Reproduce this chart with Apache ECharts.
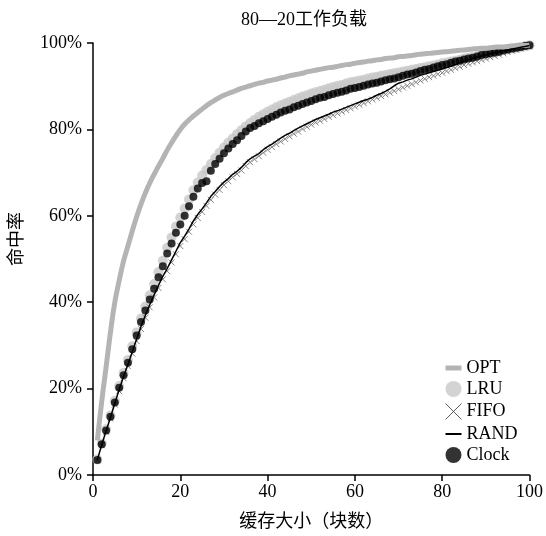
<!DOCTYPE html>
<html>
<head>
<meta charset="utf-8">
<script src="https://cdn.jsdelivr.net/npm/echarts@6/dist/echarts.min.js"></script>
<style>
  html, body { margin: 0; padding: 0; background: #fff; }
  #eChart { width: 546px; height: 536px; }
</style>
</head>
<body>
<div id="eChart"></div>
<script>
// hit rate (%) for cache sizes 1..100
var optHits = [
  8, 17, 25, 33, 40, 45, 49.5, 53, 56.5, 59.8,
  62.7, 65.3, 67.6, 69.6, 71.5, 73.3, 75.2, 76.9, 78.5, 80.0,
  81.2, 82.2, 83.1, 83.9, 84.7, 85.5, 86.2, 86.8, 87.4, 87.9,
  88.3, 88.7, 89.1, 89.5, 89.8, 90.1, 90.4, 90.7, 90.9, 91.2,
  91.4, 91.6, 91.9, 92.1, 92.4, 92.6, 92.8, 93.0, 93.3, 93.5,
  93.7, 93.9, 94.1, 94.3, 94.4, 94.6, 94.8, 95.0, 95.1, 95.3,
  95.5, 95.6, 95.8, 95.9, 96.1, 96.2, 96.4, 96.5, 96.6, 96.8,
  96.9, 97.0, 97.1, 97.3, 97.4, 97.5, 97.6, 97.7, 97.8, 97.9,
  98.0, 98.1, 98.2, 98.3, 98.4, 98.5, 98.6, 98.7, 98.8, 98.8,
  98.9, 99.0, 99.1, 99.1, 99.2, 99.3, 99.3, 99.4, 99.4, 99.5
];
var lruHits = [
  3.6, 7.3, 10.6, 13.8, 17.2, 20.6, 23.6, 26.6, 29.8, 33.0,
  36.2, 39.0, 41.6, 44.2, 47.0, 49.6, 52.6, 55.0, 57.5, 59.6,
  61.7, 63.8, 65.9, 67.7, 69.3, 70.6, 72.0, 73.4, 74.6, 75.8,
  76.9, 77.9, 78.9, 79.8, 80.7, 81.5, 82.2, 82.9, 83.5, 84.1,
  84.6, 85.1, 85.6, 86.0, 86.4, 86.8, 87.2, 87.6, 87.9, 88.3,
  88.6, 88.9, 89.2, 89.5, 89.8, 90.1, 90.3, 90.6, 90.9, 91.1,
  91.3, 91.5, 91.8, 92.0, 92.2, 92.4, 92.6, 92.8, 93.0, 93.2,
  93.4, 93.6, 93.8, 94.0, 94.2, 94.4, 94.6, 94.8, 95.0, 95.3,
  95.5, 95.7, 95.9, 96.1, 96.4, 96.6, 96.8, 97.0, 97.3, 97.5,
  97.7, 97.9, 98.1, 98.3, 98.5, 98.7, 98.9, 99.1, 99.3, 99.5
];
var fifoHits = [
  3.4, 6.9, 10.0, 13.1, 16.3, 19.4, 22.4, 25.2, 28.1, 31.0,
  33.8, 36.4, 38.8, 41.1, 43.3, 45.3, 47.2, 49.2, 51.1, 53.0,
  54.6, 56.3, 58.0, 59.5, 60.9, 62.3, 63.7, 64.9, 66.0, 67.1,
  68.0, 68.9, 69.7, 70.5, 71.5, 72.4, 73.1, 73.8, 74.6, 75.3,
  75.9, 76.6, 77.2, 77.8, 78.4, 79.0, 79.5, 80.1, 80.6, 81.1,
  81.6, 82.0, 82.4, 82.9, 83.3, 83.7, 84.1, 84.5, 84.9, 85.3,
  85.7, 86.1, 86.5, 86.9, 87.3, 87.7, 88.1, 88.5, 88.9, 89.3,
  89.7, 90.1, 90.5, 90.9, 91.3, 91.7, 92.1, 92.4, 92.8, 93.1,
  93.5, 93.8, 94.2, 94.5, 94.9, 95.2, 95.5, 95.8, 96.1, 96.4,
  96.7, 97.0, 97.3, 97.6, 97.9, 98.2, 98.4, 98.7, 98.9, 99.2
];
var randHits = [
  3.5, 7.0, 10.2, 13.3, 16.6, 19.8, 22.8, 25.6, 28.5, 31.5,
  34.4, 37.0, 39.4, 41.7, 43.9, 46.0, 47.8, 49.8, 51.8, 53.8,
  55.3, 57.0, 58.8, 60.3, 61.6, 63.0, 64.5, 65.6, 66.8, 67.8,
  68.6, 69.6, 70.3, 71.2, 72.3, 73.2, 73.8, 74.4, 75.3, 76.0,
  76.6, 77.3, 78.0, 78.6, 79.1, 79.7, 80.3, 80.8, 81.3, 81.8,
  82.3, 82.7, 83.1, 83.5, 84.0, 84.3, 84.7, 85.1, 85.5, 85.9,
  86.3, 86.7, 87.0, 87.4, 87.9, 88.3, 88.8, 89.4, 90.1, 90.7,
  91.0, 91.4, 91.7, 92.1, 92.5, 92.8, 93.1, 93.4, 93.7, 94.0,
  94.3, 94.6, 95.0, 95.4, 95.8, 96.1, 96.4, 96.7, 97.0, 97.2,
  97.5, 97.7, 97.9, 98.2, 98.4, 98.6, 98.8, 99.0, 99.2, 99.4
];
var clockHits = [
  3.5, 7.1, 10.3, 13.5, 16.8, 20.2, 23.1, 26.0, 29.1, 32.3,
  35.4, 38.1, 40.6, 43.1, 45.8, 48.3, 51.3, 53.6, 56.1, 58.0,
  60.0, 62.2, 64.4, 66.3, 67.6, 68.0, 70.4, 72.0, 73.2, 74.5,
  75.6, 76.6, 77.5, 78.5, 79.5, 80.3, 80.8, 81.4, 81.9, 82.4,
  82.9, 83.4, 83.9, 84.3, 84.6, 85.1, 85.5, 85.9, 86.2, 86.6,
  87.0, 87.3, 87.5, 87.9, 88.2, 88.5, 88.7, 89.0, 89.4, 89.6,
  89.8, 90.1, 90.4, 90.6, 90.8, 91.1, 91.4, 91.6, 91.8, 92.1,
  92.4, 92.7, 92.9, 93.2, 93.5, 93.8, 94.0, 94.3, 94.6, 94.9,
  95.1, 95.4, 95.7, 95.9, 96.2, 96.4, 96.6, 96.9, 97.2, 97.4,
  97.6, 97.8, 98.0, 98.3, 98.5, 98.7, 98.9, 99.1, 99.3, 99.5
];
var xTicks = [0, 20, 40, 60, 80, 100];

var FONT = "'Liberation Serif', 'Noto Sans CJK SC', serif";
var CROSS = 'path://M0,0L10,10M10,0L0,10';

// pair each hit rate with its cache size (index + 1)
function pairs(values) {
  var d = [];
  for (var i = 0; i < values.length; i++) d.push([i + 1, values[i]]);
  return d;
}

var option = {
  animation: false,
  backgroundColor: '#fff',
  title: {
    text: '80—20工作负载',
    left: 236,
    top: 6,
    textStyle: { fontFamily: FONT, fontSize: 18, fontWeight: 'normal', color: '#000' }
  },
  legend: {
    orient: 'vertical',
    left: 443,
    top: 359,
    itemWidth: 16,
    itemHeight: 16,
    itemGap: 3,
    padding: 0,
    textStyle: { fontFamily: FONT, fontSize: 18, color: '#000' },
    data: [
      { name: 'OPT', icon: 'path://M0,0H16V5H0Z', itemStyle: { color: '#b4b4b4' } },
      { name: 'LRU', icon: 'circle', itemStyle: { color: '#c8c8c8' } },
      { name: 'FIFO', icon: CROSS, itemStyle: { color: 'none', borderColor: '#333', borderWidth: 1 } },
      { name: 'RAND', icon: 'path://M0,0H16V2H0Z', itemStyle: { color: '#000' } },
      { name: 'Clock', icon: 'circle', itemStyle: { color: '#000' } }
    ]
  },
  grid: { left: 93, right: 16, top: 43, bottom: 59 },
  xAxis: {
    type: 'value',
    min: xTicks[0],
    max: xTicks[xTicks.length - 1],
    interval: 20,
    name: '缓存大小（块数）',
    nameLocation: 'middle',
    nameGap: 38,
    nameTextStyle: { fontFamily: FONT, fontSize: 18, color: '#000' },
    axisLine: { lineStyle: { color: '#000', width: 1.5 } },
    axisTick: { length: 6, lineStyle: { color: '#000', width: 1.5 } },
    axisLabel: { fontFamily: FONT, fontSize: 18, color: '#000', margin: 8 },
    splitLine: { show: false }
  },
  yAxis: {
    type: 'value',
    min: 0,
    max: 100,
    interval: 20,
    name: '命中率',
    nameLocation: 'middle',
    nameGap: 67,
    nameTextStyle: { fontFamily: FONT, fontSize: 18, color: '#000', padding: [0, 0, 0, 40] },
    axisLine: { show: true, lineStyle: { color: '#000', width: 1.5 } },
    axisTick: { show: true, length: 6, lineStyle: { color: '#000', width: 1.5 } },
    axisLabel: { fontFamily: FONT, fontSize: 18, color: '#000', margin: 11, formatter: '{value}%' },
    splitLine: { show: false }
  },
  series: [
    {
      name: 'OPT', type: 'line', showSymbol: false, smooth: true,
      lineStyle: { color: '#b4b4b4', width: 5 },
      itemStyle: { color: '#b4b4b4' },
      data: pairs(optHits)
    },
    {
      name: 'LRU', type: 'scatter', symbol: 'circle', symbolSize: 10,
      itemStyle: { color: '#c8c8c8' },
      data: pairs(lruHits)
    },
    {
      name: 'FIFO', type: 'scatter', symbol: CROSS, symbolSize: 6,
      itemStyle: { color: 'none', borderColor: '#666', borderWidth: 1 },
      data: pairs(fifoHits)
    },
    {
      name: 'RAND', type: 'line', showSymbol: false,
      lineStyle: { color: '#000', width: 1.5 },
      itemStyle: { color: '#000' },
      data: pairs(randHits)
    },
    {
      name: 'Clock', type: 'scatter', symbol: 'circle', symbolSize: 8,
      itemStyle: { color: '#000' },
      data: pairs(clockHits)
    }
  ]
};

var chart = echarts.init(document.getElementById('eChart'));
chart.setOption(option);
</script>
</body>
</html>
